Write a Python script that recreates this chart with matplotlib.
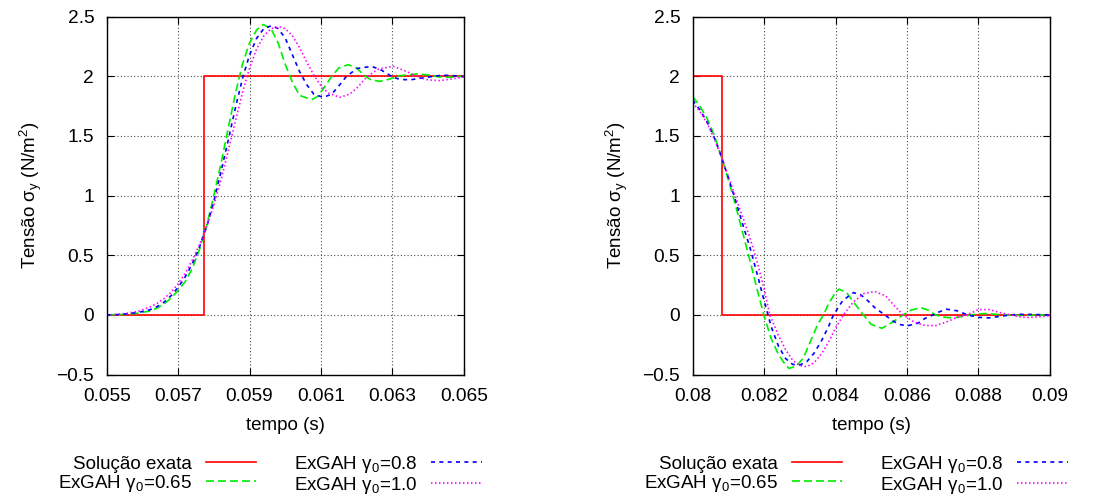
import matplotlib
matplotlib.use("Agg")
import matplotlib.pyplot as plt

plt.rcParams['font.family'] = ['Liberation Sans', 'DejaVu Sans']
plt.rcParams['mathtext.fontset'] = 'custom'
plt.rcParams['mathtext.rm'] = 'Liberation Sans'
plt.rcParams['mathtext.it'] = 'Liberation Sans:italic'
plt.rcParams['mathtext.sf'] = 'Liberation Sans'
plt.rcParams['font.size'] = 13.5

# ---- left panel: rising front ----
exact_t_a = [0.055, 0.05773, 0.065]
exact_v_a = [0.0, 2.0, 2.0]

g065_t_a = [0.0550, 0.0553, 0.0556, 0.0559, 0.0562, 0.0564, 0.0566, 0.0568, 0.0570, 0.0572,
            0.0574, 0.0576, 0.0578, 0.0580, 0.0582, 0.0584, 0.0586, 0.0588, 0.0590, 0.0592,
            0.05938, 0.0596, 0.0598, 0.0600, 0.0602, 0.0604, 0.06074, 0.0609, 0.0611, 0.0613,
            0.0615, 0.06176, 0.0620, 0.0622, 0.0624, 0.06265, 0.0629, 0.0632, 0.06368, 0.0640,
            0.0643, 0.0646, 0.0650]
g065_v_a = [0.000, 0.002, 0.006, 0.016, 0.032, 0.055, 0.090, 0.140, 0.205, 0.280,
            0.390, 0.550, 0.750, 1.000, 1.270, 1.560, 1.850, 2.100, 2.280, 2.390,
            2.434, 2.400, 2.280, 2.100, 1.950, 1.840, 1.804, 1.830, 1.910, 2.000,
            2.070, 2.098, 2.070, 2.010, 1.970, 1.958, 1.975, 2.005, 2.020, 2.012,
            1.995, 1.992, 2.000]

g08_t_a = [0.0550, 0.0553, 0.0556, 0.0559, 0.0562, 0.0564, 0.0566, 0.0568, 0.0570, 0.0572,
           0.0574, 0.0576, 0.0578, 0.0580, 0.0582, 0.0584, 0.0586, 0.0588, 0.0590, 0.0592,
           0.0594, 0.05962, 0.0598, 0.0600, 0.0602, 0.0604, 0.0606, 0.0608, 0.06106, 0.0613,
           0.0615, 0.0617, 0.0620, 0.06242, 0.0627, 0.0630, 0.0632, 0.06349, 0.0638, 0.06441,
           0.0647, 0.0650]
g08_v_a = [0.000, 0.003, 0.010, 0.022, 0.042, 0.068, 0.105, 0.160, 0.230, 0.320,
           0.430, 0.570, 0.740, 0.950, 1.200, 1.460, 1.730, 1.980, 2.180, 2.320,
           2.400, 2.425, 2.400, 2.320, 2.180, 2.040, 1.930, 1.850, 1.824, 1.850,
           1.920, 1.995, 2.065, 2.084, 2.050, 1.995, 1.975, 1.970, 1.985, 2.010,
           2.005, 1.998]

g10_t_a = [0.0550, 0.0553, 0.0556, 0.0559, 0.0562, 0.0564, 0.0566, 0.0568, 0.0570, 0.0572,
           0.0574, 0.0576, 0.0578, 0.0580, 0.0582, 0.0584, 0.0586, 0.0588, 0.0590, 0.0592,
           0.0594, 0.0596, 0.05985, 0.0600, 0.0602, 0.0604, 0.0606, 0.0608, 0.0610, 0.0612,
           0.06153, 0.0618, 0.0620, 0.0623, 0.0626, 0.06302, 0.0634, 0.0637, 0.0640, 0.06433,
           0.0647, 0.0650]
g10_v_a = [0.000, 0.005, 0.015, 0.032, 0.065, 0.095, 0.135, 0.190, 0.260, 0.350,
           0.460, 0.590, 0.740, 0.920, 1.130, 1.370, 1.620, 1.860, 2.070, 2.230,
           2.340, 2.400, 2.415, 2.400, 2.340, 2.240, 2.120, 2.010, 1.920, 1.860,
           1.824, 1.850, 1.900, 2.000, 2.060, 2.084, 2.040, 1.995, 1.970, 1.964,
           1.980, 1.995]

# ---- right panel: falling front ----
exact_t_b = [0.08, 0.08082, 0.09]
exact_v_b = [2.0, 0.0, 0.0]

g065_t_b = [0.0800, 0.0802, 0.0804, 0.0806, 0.0808, 0.0810, 0.0812, 0.0814, 0.0816, 0.0818,
            0.0820, 0.0822, 0.0824, 0.0826, 0.0827, 0.0829, 0.0831, 0.0833, 0.0835, 0.08366,
            0.0838, 0.0840, 0.0841, 0.0843, 0.0845, 0.0847, 0.08478, 0.0850, 0.0853, 0.0856,
            0.08589, 0.0861, 0.0864, 0.0866, 0.0868, 0.0870, 0.0873, 0.0876, 0.0879, 0.0882,
            0.0886, 0.0890, 0.0900]
g065_v_b = [1.830, 1.750, 1.650, 1.510, 1.330, 1.133, 0.920, 0.690, 0.460, 0.220,
            -0.010, -0.200, -0.330, -0.420, -0.448, -0.430, -0.360, -0.220, -0.080, 0.000,
            0.090, 0.190, 0.216, 0.190, 0.110, 0.030, 0.000, -0.080, -0.112, -0.060,
            0.000, 0.040, 0.059, 0.040, 0.000, -0.018, -0.025, -0.010, 0.005, 0.012,
            0.003, -0.004, 0.000]

g08_t_b = [0.0800, 0.0802, 0.0804, 0.0806, 0.0808, 0.0810, 0.0812, 0.0814, 0.0816, 0.0818,
           0.0820, 0.0822, 0.0824, 0.0826, 0.0828, 0.0830, 0.0832, 0.0834, 0.0836, 0.0838,
           0.08394, 0.0842, 0.0845, 0.0847, 0.0849, 0.0851, 0.08538, 0.0856, 0.0858, 0.0860,
           0.0863, 0.0865, 0.08673, 0.0869, 0.0871, 0.0874, 0.0877, 0.0880, 0.0883, 0.0887,
           0.0891, 0.0895, 0.0900]
g08_v_b = [1.800, 1.720, 1.620, 1.490, 1.330, 1.150, 0.960, 0.760, 0.570, 0.350,
           0.120, -0.100, -0.260, -0.365, -0.415, -0.420, -0.390, -0.320, -0.220, -0.100,
           0.000, 0.120, 0.187, 0.170, 0.120, 0.060, 0.000, -0.050, -0.080, -0.092,
           -0.070, -0.030, 0.000, 0.025, 0.048, 0.035, 0.000, -0.020, -0.025, -0.008,
           0.005, 0.004, 0.000]

g10_t_b = [0.0800, 0.0802, 0.0804, 0.0806, 0.0808, 0.0810, 0.0812, 0.0814, 0.0816, 0.0818,
           0.0820, 0.08216, 0.0824, 0.0826, 0.0828, 0.0830, 0.0832, 0.0834, 0.0836, 0.0838,
           0.0840, 0.08422, 0.0845, 0.0848, 0.0851, 0.0854, 0.0857, 0.08589, 0.0862, 0.0865,
           0.0868, 0.0871, 0.0874, 0.08767, 0.0880, 0.0883, 0.0886, 0.0889, 0.0892, 0.0894,
           0.0897, 0.0900]
g10_v_b = [1.780, 1.706, 1.610, 1.480, 1.330, 1.160, 0.990, 0.820, 0.650, 0.450,
           0.220, 0.000, -0.170, -0.290, -0.380, -0.425, -0.434, -0.400, -0.330, -0.230,
           -0.110, 0.000, 0.110, 0.180, 0.196, 0.160, 0.060, 0.000, -0.060, -0.088,
           -0.090, -0.060, -0.020, 0.000, 0.045, 0.045, 0.020, 0.000, -0.018, -0.022,
           -0.015, -0.008]

xticks_a = [0.055, 0.057, 0.059, 0.061, 0.063, 0.065]
xticklabels_a = ['0.055', '0.057', '0.059', '0.061', '0.063', '0.065']
xticks_b = [0.08, 0.082, 0.084, 0.086, 0.088, 0.09]
xticklabels_b = ['0.08', '0.082', '0.084', '0.086', '0.088', '0.09']
yticks = [-0.5, 0, 0.5, 1, 1.5, 2, 2.5]
yticklabels = ['\u22120.5', '0', '0.5', '1', '1.5', '2', '2.5']

labels = ['Solução exata', 'ExGAH γ$_0$=0.65', 'ExGAH γ$_0$=0.8', 'ExGAH γ$_0$=1.0']

LW = 1.2
styles = [
    dict(color='#ff0000', linestyle='-'),
    dict(color='#00ee00', linestyle=(0, (4.8, 2.4))),
    dict(color='#0000ff', linestyle=(0, (2.4, 2.6))),
    dict(color='#ff00ff', linestyle=(0, (0.9, 1.5))),
]

fig = plt.figure(figsize=(11.04, 4.96), dpi=100)
ax_a = fig.add_axes([0.0966, 0.2448, 0.3236, 0.7216])
ax_b = fig.add_axes([0.6274, 0.2448, 0.3236, 0.7216])

panels = [
    (ax_a, exact_t_a, exact_v_a, [(g065_t_a, g065_v_a), (g08_t_a, g08_v_a), (g10_t_a, g10_v_a)],
     xticks_a, xticklabels_a),
    (ax_b, exact_t_b, exact_v_b, [(g065_t_b, g065_v_b), (g08_t_b, g08_v_b), (g10_t_b, g10_v_b)],
     xticks_b, xticklabels_b),
]

for ax, et, ev, series, xt, xtl in panels:
    ax.plot(et, ev, drawstyle='steps-post', lw=LW, label=labels[0], **styles[0])
    for (t, v), lab, st in zip(series, labels[1:], styles[1:]):
        ax.plot(t, v, lw=LW, label=lab, **st)

    ax.set_xlim(xt[0], xt[-1])
    ax.set_ylim(-0.5, 2.5)
    ax.set_xticks(xt)
    ax.set_xticklabels(xtl)
    ax.set_yticks(yticks)
    ax.set_yticklabels(yticklabels)
    ax.tick_params(direction='in', length=5, width=0.8, top=True, right=True, labelsize=13.8)
    ax.tick_params(axis='x', pad=10)
    ax.tick_params(axis='y', pad=9)
    ax.grid(True, color='0.3', linestyle=(0, (1, 2)), linewidth=0.8)
    ax.set_axisbelow(True)
    for sp in ax.spines.values():
        sp.set_linewidth(1.0)

    ax.set_xlabel('tempo (s)', fontsize=13.5, labelpad=8)
    ax.set_ylabel('Tensão σ$_\\mathrm{y}$ (N/m$^2$)', fontsize=13.5, labelpad=9)

    ax.legend(ncol=2, markerfirst=False, frameon=False, fontsize=13.5,
              loc='upper right', bbox_to_anchor=(1.05, -0.222),
              borderaxespad=0, borderpad=0, handlelength=2.7, handletextpad=0.75,
              columnspacing=2.0, labelspacing=0.0)

fig.savefig('out.png', dpi=100)
